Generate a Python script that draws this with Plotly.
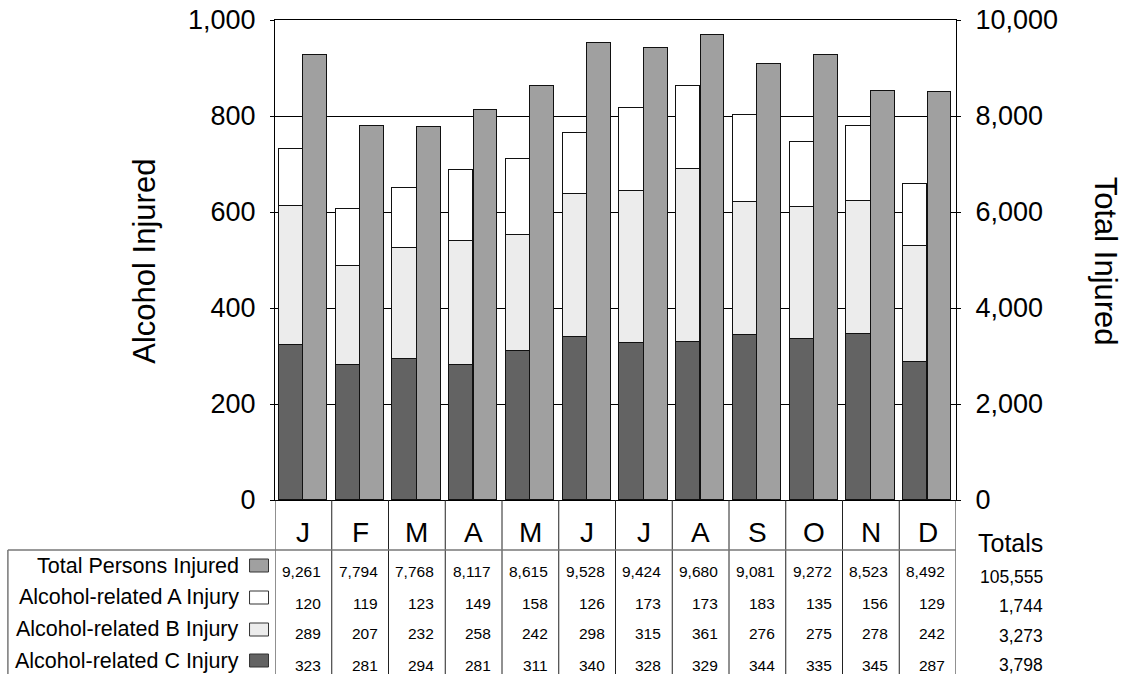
import plotly.graph_objects as go

months = ["J", "F", "M", "A", "M", "J", "J", "A", "S", "O", "N", "D"]
total_injured = [9261, 7794, 7768, 8117, 8615, 9528, 9424, 9680, 9081, 9272, 8523, 8492]
a_injury = [120, 119, 123, 149, 158, 126, 173, 173, 183, 135, 156, 129]
b_injury = [289, 207, 232, 258, 242, 298, 315, 361, 276, 275, 278, 242]
c_injury = [323, 281, 294, 281, 311, 340, 328, 329, 344, 335, 345, 287]
row_labels = ["Total Persons Injured", "Alcohol-related A Injury",
              "Alcohol-related B Injury", "Alcohol-related C Injury"]
row_totals = ["105,555", "1,744", "3,273", "3,798"]

FONT = "Liberation Sans, Arial, Helvetica, sans-serif"
W, H = 1128, 674
PL, PR, PT, PB = 274.5, 956.5, 20, 500  # plot area in px

def px_x(X):
    return (X - PL) / (PR - PL)

def px_y(Y):
    return (PB - Y) / (PB - PT)

COL_TOTAL = "#a0a0a0"
COL_A = "#ffffff"
COL_B = "#ececec"
COL_C = "#636363"

xs = list(range(len(months)))

fig = go.Figure()
for vals, col, name in [(c_injury, COL_C, row_labels[3]),
                        (b_injury, COL_B, row_labels[2]),
                        (a_injury, COL_A, row_labels[1])]:
    fig.add_trace(go.Bar(x=xs, y=vals, name=name, marker=dict(color=col, line=dict(color="#111", width=1)),
                         width=0.43, offset=-0.433, yaxis="y", showlegend=False))
fig.add_trace(go.Bar(x=xs, y=total_injured, name=row_labels[0],
                     marker=dict(color=COL_TOTAL, line=dict(color="#111", width=1)),
                     width=0.42, offset=0.0, yaxis="y2", showlegend=False))

shapes = []
for i in range(len(months) + 1):
    shapes.append(dict(type="line", xref="x", yref="paper", x0=i - 0.5, x1=i - 0.5,
                       y0=0, y1=px_y(680), line=dict(color="#222", width=1)))
shapes.append(dict(type="line", xref="paper", yref="paper", x0=px_x(7), x1=1,
                   y0=px_y(550), y1=px_y(550), line=dict(color="#777", width=1.5)))
shapes.append(dict(type="line", xref="paper", yref="paper", x0=px_x(7), x1=px_x(7),
                   y0=px_y(550), y1=px_y(680), line=dict(color="#777", width=1.5)))

annotations = []
for i, m in enumerate(months):
    annotations.append(dict(x=i, y=px_y(532), xref="x", yref="paper", text=m, showarrow=False,
                            xanchor="center", yanchor="middle", font=dict(size=28, color="black", family=FONT)))

label_y = [565.5, 597, 629, 660.5]
swatch_y = [(559, 572), (591, 604), (623, 636), (654, 667)]
swatch_col = [COL_TOTAL, COL_A, COL_B, COL_C]
for k, lab in enumerate(row_labels):
    annotations.append(dict(x=px_x(240), y=px_y(label_y[k]), xref="paper", yref="paper", text=lab,
                            showarrow=False, xanchor="right", yanchor="middle",
                            font=dict(size=21.5, color="black", family=FONT)))
    shapes.append(dict(type="rect", xref="paper", yref="paper", x0=px_x(249), x1=px_x(268),
                       y0=px_y(swatch_y[k][1]), y1=px_y(swatch_y[k][0]),
                       fillcolor=swatch_col[k], line=dict(color="#333", width=1)))

val_y = [571, 603.5, 633, 665]
rows = [total_injured, a_injury, b_injury, c_injury]
for k, row in enumerate(rows):
    for i, v in enumerate(row):
        annotations.append(dict(x=i + 0.5, y=px_y(val_y[k]), xref="x", yref="paper", text=f"{v:,}",
                                showarrow=False, xanchor="right", yanchor="middle", xshift=-9,
                                font=dict(size=15.5, color="black", family=FONT)))

annotations.append(dict(x=px_x(1046), y=px_y(542.5), xref="paper", yref="paper", text="Totals",
                        showarrow=False, xanchor="right", yanchor="middle",
                        font=dict(size=25, color="black", family=FONT)))
tot_y = [577, 606, 636, 665]
for k, t in enumerate(row_totals):
    annotations.append(dict(x=px_x(1046), y=px_y(tot_y[k]), xref="paper", yref="paper", text=t,
                            showarrow=False, xanchor="right", yanchor="middle",
                            font=dict(size=17.5, color="black", family=FONT)))

annotations.append(dict(x=px_x(143), y=px_y(261), xref="paper", yref="paper", text="Alcohol Injured",
                        showarrow=False, textangle=-90, xanchor="center", yanchor="middle",
                        font=dict(size=31, color="black", family=FONT)))
annotations.append(dict(x=px_x(1107), y=px_y(261), xref="paper", yref="paper", text="Total Injured",
                        showarrow=False, textangle=90, xanchor="center", yanchor="middle",
                        font=dict(size=31, color="black", family=FONT)))

fig.update_layout(
    width=W, height=H,
    margin=dict(l=PL, r=W - PR, t=PT, b=H - PB, pad=0, autoexpand=False),
    paper_bgcolor="white", plot_bgcolor="white",
    barmode="stack", bargap=0,
    font=dict(family=FONT, color="black"),
    xaxis=dict(range=[-0.5, 11.5], showticklabels=False, ticks="", showgrid=False, zeroline=False,
               showline=True, mirror=True, linecolor="black", linewidth=1, fixedrange=True,
               automargin=False),
    yaxis=dict(range=[0, 1000], tickvals=[0, 200, 400, 600, 800, 1000], tickformat=",d",
               showgrid=True, gridcolor="black", gridwidth=1, zeroline=False, automargin=False,
               showline=True, linecolor="black", linewidth=1, ticks="outside", ticklen=4,
               tickcolor="black", ticklabelstandoff=9, tickfont=dict(size=27, family=FONT, color="black")),
    yaxis2=dict(range=[0, 10000], tickvals=[0, 2000, 4000, 6000, 8000, 10000], tickformat=",d",
                overlaying="y", side="right", showgrid=False, zeroline=False, automargin=False,
                showline=True, linecolor="black", linewidth=1, ticks="outside", ticklen=4,
                tickcolor="black", ticklabelstandoff=9, tickfont=dict(size=27, family=FONT, color="black")),
    shapes=shapes, annotations=annotations, showlegend=False,
)

fig.write_html("out.html", config={"displayModeBar": False},
               post_script="document.body.style.margin='0';document.body.style.overflow='hidden';")
